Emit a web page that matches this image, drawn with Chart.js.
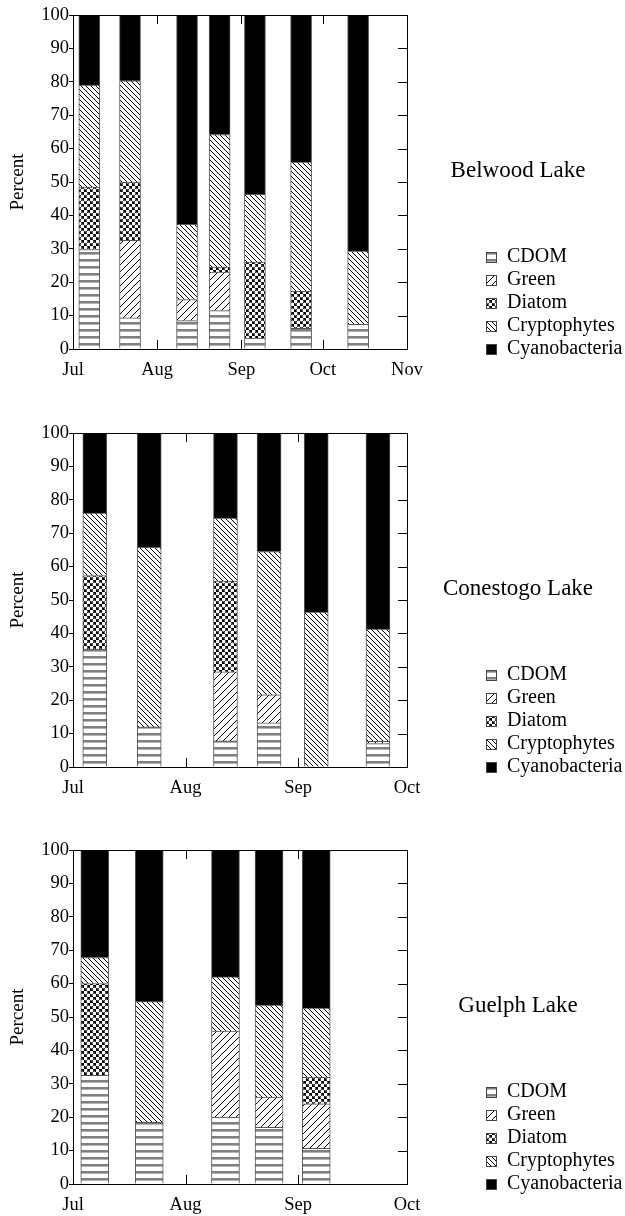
<!DOCTYPE html>
<html>
<head>
<meta charset="utf-8">
<script src="https://cdn.jsdelivr.net/npm/chart.js@4.4.1/dist/chart.umd.min.js"></script>
<style>
  body { margin: 0; background: #fff; }
  .panel { position: absolute; left: 0; width: 625px; height: 381px; }
</style>
</head>
<body>
<div class="panel" style="top:0"><canvas id="belwood"></canvas></div>
<div class="panel" style="top:418px"><canvas id="conestogo"></canvas></div>
<div class="panel" style="top:835px"><canvas id="guelph"></canvas></div>
<script>
const groups = ['CDOM', 'Green', 'Diatom', 'Cryptophytes', 'Cyanobacteria'];
const monthNames = ['Jul', 'Aug', 'Sep', 'Oct', 'Nov'];
const monthStarts = [0, 31, 62, 92, 123];   // days after Jul 1

// Belwood Lake (% of absorption)
const belwoodDays   = [6, 21, 42, 54, 67, 84, 105];
const belwoodCdom   = [29.8, 9.3, 8.5, 11.5, 3.3, 6.2, 7.4];
const belwoodGreen  = [0, 23.2, 6.3, 11.5, 0, 0, 0];
const belwoodDiatom = [18.7, 17.5, 0, 1.5, 22.7, 11.1, 0];
const belwoodCrypto = [30.5, 30.3, 22.5, 39.7, 20.3, 38.7, 21.9];
const belwoodCyano  = [21.0, 19.7, 62.7, 35.8, 53.7, 44.0, 70.7];

// Conestogo Lake
const conestogoDays   = [6, 21, 42, 54, 67, 84];
const conestogoCdom   = [35.3, 12.0, 7.8, 13.2, 0, 7.0];
const conestogoGreen  = [0, 0, 20.7, 8.4, 0, 0.7];
const conestogoDiatom = [22.0, 0, 27.2, 0, 0, 0];
const conestogoCrypto = [18.7, 53.8, 18.8, 42.9, 46.4, 33.6];
const conestogoCyano  = [24.0, 34.2, 25.5, 35.5, 53.6, 58.7];

// Guelph Lake
const guelphDays   = [6, 21, 42, 54, 67];
const guelphCdom   = [32.5, 18.5, 20.0, 17.0, 10.7];
const guelphGreen  = [0, 0, 25.8, 9.0, 13.3];
const guelphDiatom = [27.5, 0, 0, 0, 8.0];
const guelphCrypto = [7.8, 36.1, 16.2, 27.6, 20.7];
const guelphCyano  = [32.2, 45.4, 38.0, 46.4, 47.3];

const serif = '"Liberation Serif", "Times New Roman", serif';

function tile(size, bg, paint) {
    const c = document.createElement('canvas');
    c.width = c.height = size;
    const g = c.getContext('2d');
    g.fillStyle = bg;
    g.fillRect(0, 0, size, size);
    paint(g, size);
    return g.createPattern(c, 'repeat');
}

// hatch fills, one per group
const fills = [
    tile(7, '#fff', g => {
        g.fillStyle = '#808080'; g.fillRect(0, 0, 7, 2);
        g.fillStyle = '#b4b4b4'; g.fillRect(0, 2, 7, 1);
    }),
    tile(7, '#fff', (g, n) => {
        g.fillStyle = '#000';
        for (let i = 0; i < n; i++) g.fillRect(i, n - 1 - i, 1, 1);
    }),
    tile(6, '#000', g => {
        g.fillStyle = '#fff';
        [[1.5, 1.5], [4.5, 4.5]].forEach(([cx, cy]) => {
            g.beginPath(); g.arc(cx, cy, 1.9, 0, Math.PI * 2); g.fill();
        });
    }),
    tile(5, '#fff', (g, n) => {
        g.fillStyle = '#000';
        for (let i = 0; i < n; i++) g.fillRect(i, i, 1, 1);
    }),
    '#000'
];

// frame, inner ticks, lake name and legend
const lakeDecor = {
    id: 'lakeDecor',
    afterDraw(chart, args, opts) {
        const { ctx, chartArea: a, scales: { x, y } } = chart;
        ctx.save();
        ctx.strokeStyle = '#000';
        ctx.lineWidth = 1;
        ctx.strokeRect(a.left + 0.5, a.top + 0.5, a.right - a.left, a.bottom - a.top);

        ctx.beginPath();
        for (let v = 10; v < 100; v += 10) {
            const py = Math.round(y.getPixelForValue(v)) + 0.5;
            ctx.moveTo(a.right - 9, py);
            ctx.lineTo(a.right, py);
        }
        opts.months.slice(1, -1).forEach(d => {
            const px = Math.round(x.getPixelForValue(d)) + 0.5;
            ctx.moveTo(px, a.bottom); ctx.lineTo(px, a.bottom - 9);
            ctx.moveTo(px, a.top); ctx.lineTo(px, a.top + 9);
        });
        ctx.stroke();

        ctx.fillStyle = '#000';
        ctx.font = '23px ' + serif;
        ctx.textAlign = 'center';
        ctx.textBaseline = 'alphabetic';
        ctx.fillText(opts.title, 518, 177);

        ctx.textAlign = 'left';
        ctx.textBaseline = 'middle';
        ctx.font = '20px ' + serif;
        groups.forEach((name, i) => {
            const cy = 257 + i * 23;
            ctx.fillStyle = fills[i];
            ctx.fillRect(486, cy - 5, 11, 11);
            ctx.strokeStyle = '#444';
            ctx.strokeRect(486.5, cy - 4.5, 10, 10);
            ctx.fillStyle = '#000';
            ctx.fillText(name, 507, cy);
        });
        ctx.restore();
    }
};

function makeLakeChart(id, title, days, series, lastMonth, barPx) {
    const months = monthStarts.slice(0, lastMonth + 1);
    const datasets = series.map((vals, i) => ({
        label: groups[i],
        data: days.map((d, j) => ({ x: d, y: vals[j] || null })),
        backgroundColor: fills[i],
        borderColor: '#555',
        borderWidth: 1,
        barThickness: barPx
    }));

    return new Chart(document.getElementById(id), {
        type: 'bar',
        data: { datasets },
        plugins: [lakeDecor],
        options: {
            responsive: true,
            maintainAspectRatio: false,
            animation: false,
            layout: { padding: { top: 15, right: 218, left: 0, bottom: 0 } },
            plugins: {
                legend: { display: false },
                tooltip: { enabled: false },
                lakeDecor: { title, months }
            },
            scales: {
                x: {
                    type: 'linear',
                    stacked: true,
                    offset: false,
                    min: 0,
                    max: months[months.length - 1],
                    grid: { display: false, offset: false },
                    border: { display: false },
                    ticks: {
                        color: '#000',
                        font: { family: serif, size: 18.5 },
                        padding: 2,
                        maxRotation: 0,
                        autoSkip: false,
                        callback: v => monthNames[monthStarts.indexOf(v)]
                    },
                    afterBuildTicks: scale => { scale.ticks = months.map(v => ({ value: v })); },
                    afterFit: scale => { scale.height = 32; }
                },
                y: {
                    stacked: true,
                    min: 0,
                    max: 100,
                    grid: { drawOnChartArea: false, tickLength: 4, color: '#000' },
                    border: { display: false },
                    ticks: {
                        stepSize: 10,
                        color: '#000',
                        padding: 0,
                        font: { family: serif, size: 18.5 }
                    },
                    title: {
                        display: true,
                        text: 'Percent',
                        color: '#000',
                        font: { family: serif, size: 19 },
                        padding: { top: 7, bottom: 0 }
                    },
                    afterFit: scale => { scale.width = 73; }
                }
            }
        }
    });
}

makeLakeChart('belwood', 'Belwood Lake', belwoodDays,
    [belwoodCdom, belwoodGreen, belwoodDiatom, belwoodCrypto, belwoodCyano], 4, 21);
makeLakeChart('conestogo', 'Conestogo Lake', conestogoDays,
    [conestogoCdom, conestogoGreen, conestogoDiatom, conestogoCrypto, conestogoCyano], 3, 24);
makeLakeChart('guelph', 'Guelph Lake', guelphDays,
    [guelphCdom, guelphGreen, guelphDiatom, guelphCrypto, guelphCyano], 3, 28);
</script>
</body>
</html>
